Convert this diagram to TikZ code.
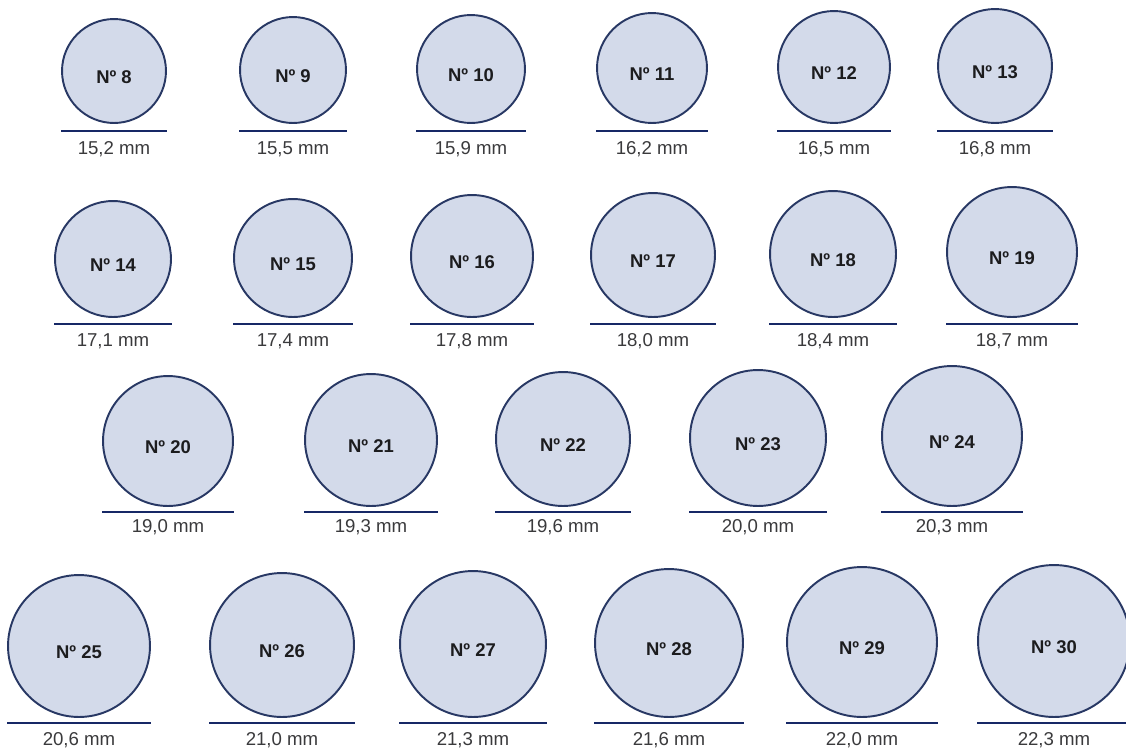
\documentclass[tikz,border=0pt]{standalone}
\usepackage{fontspec}
\setmainfont{Liberation Sans}
\definecolor{ringfill}{RGB}{211,218,234}
\definecolor{ringedge}{RGB}{40,56,100}
\definecolor{rulenavy}{RGB}{22,40,102}
\definecolor{numberblack}{RGB}{28,28,30}
\definecolor{labelgrey}{RGB}{58,58,60}

\begin{document}
\begin{tikzpicture}[
    x=0.02cm, y=-0.02cm,
    ring/.style={circle, draw=ringedge, fill=ringfill, line width=1.1pt, inner sep=0pt, text=numberblack, text height=0.48cm, text depth=0pt, font=\bfseries\fontsize{10.5}{12}\selectfont},
    size label/.style={text=labelgrey, inner sep=0pt, font=\fontsize{10.6}{12}\selectfont},
    size rule/.style={draw=rulenavy, line width=1.6pt}
]
    \useasboundingbox (0,0) rectangle (1126,751);

    % Row 1
    \foreach \n/\x/\r/\mm in {8/114/52/{15,2}, 9/293/53/{15,5}, 10/471/54/{15,9}, 11/652/55/{16,2}, 12/834/56/{16,5}, 13/995/57/{16,8}} {
        \node[ring, minimum size=\r*0.04cm] (r\n) at (\x, 123-\r) {Nº \n};
        \node[size label] (s\n) at (\x, 149) {\mm\ mm};
        \draw[size rule] (r\n.west |- 0,131) -- (r\n.east |- 0,131);
    }

    % Row 2
    \foreach \n/\x/\r/\mm in {14/113/58/{17,1}, 15/293/59/{17,4}, 16/472/61/{17,8}, 17/653/62/{18,0}, 18/833/63/{18,4}, 19/1012/65/{18,7}} {
        \node[ring, minimum size=\r*0.04cm] (r\n) at (\x, 317-\r) {Nº \n};
        \node[size label] (s\n) at (\x, 341) {\mm\ mm};
        \draw[size rule] (r\n.west |- 0,324) -- (r\n.east |- 0,324);
    }

    % Row 3
    \foreach \n/\x/\r/\mm in {20/168/65/{19,0}, 21/371/66/{19,3}, 22/563/67/{19,6}, 23/758/68/{20,0}, 24/952/70/{20,3}} {
        \node[ring, minimum size=\r*0.04cm] (r\n) at (\x, 506-\r) {Nº \n};
        \node[size label] (s\n) at (\x, 527) {\mm\ mm};
        \draw[size rule] (r\n.west |- 0,512) -- (r\n.east |- 0,512);
    }

    % Row 4
    \foreach \n/\x/\r/\mm in {25/79/71/{20,6}, 26/282/72/{21,0}, 27/473/73/{21,3}, 28/669/74/{21,6}, 29/862/75/{22,0}, 30/1054/76/{22,3}} {
        \node[ring, minimum size=\r*0.04cm] (r\n) at (\x, 717-\r) {Nº \n};
        \node[size label] (s\n) at (\x, 740) {\mm\ mm};
        \draw[size rule] (r\n.west |- 0,723) -- (r\n.east |- 0,723);
    }
\end{tikzpicture}
\end{document}
